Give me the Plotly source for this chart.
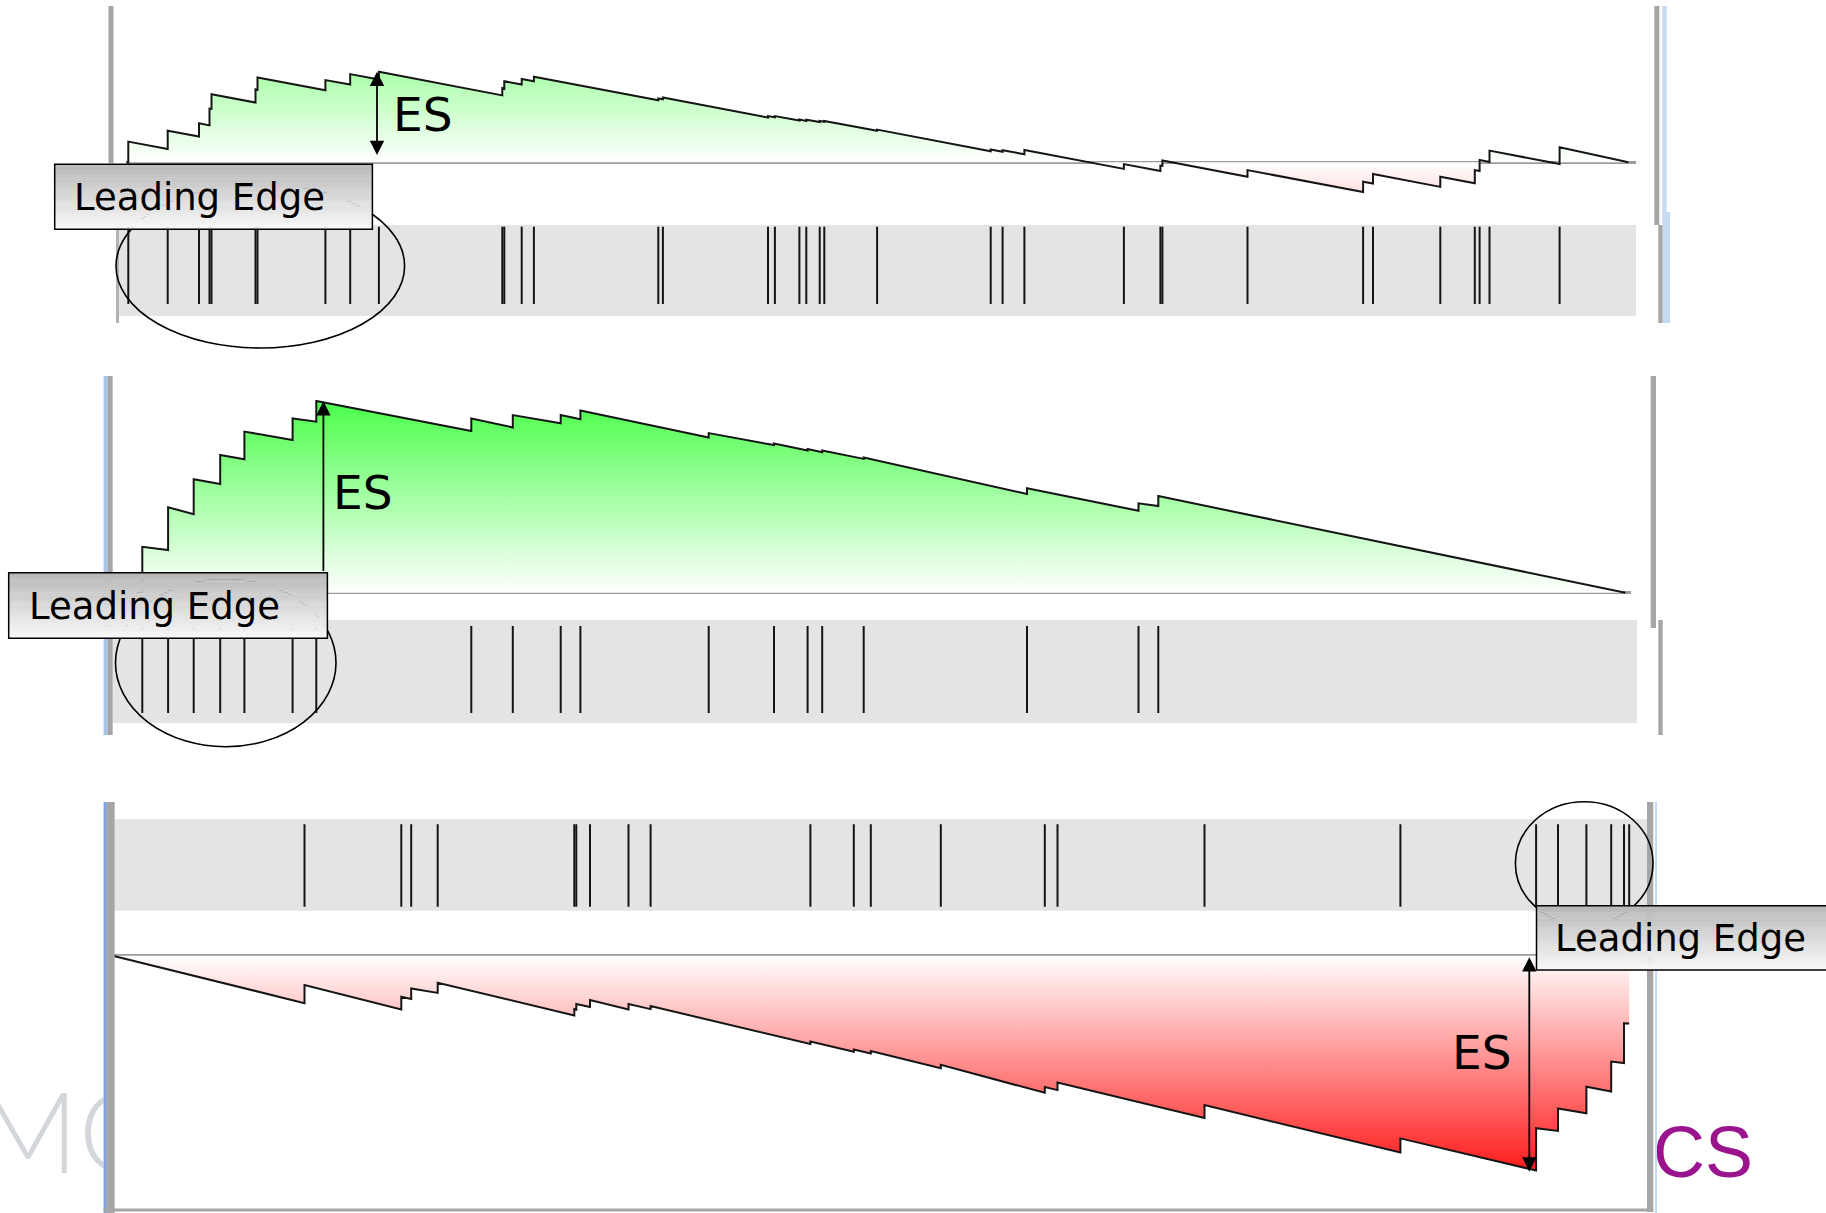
import plotly.graph_objects as go

W, H = 1826, 1213

# ===================== DATA =====================
# Panel 1 (weak enrichment): ranks of gene-set members in the ranked list
p1_hits = [19, 413, 726, 831, 851, 1291, 1311, 1990, 2238, 2525, 3759, 3779, 3953, 4075,
           5319, 5365, 6416, 6485, 6730, 6799, 6933, 6979, 7507, 8643, 8762, 8980, 9975,
           10340, 10360, 11211, 12367, 12466, 13139, 13484, 13532, 13631, 14332]
# running enrichment score just before / just after each hit
p1_es_before = [0.000, 0.044, 0.086, 0.123, 0.178, 0.199, 0.241, 0.240, 0.259, 0.276,
                0.223, 0.245, 0.259, 0.270, 0.207, 0.210, 0.149, 0.150, 0.139, 0.138,
                0.134, 0.135, 0.105, 0.037, 0.035, 0.027, -0.022, -0.029, -0.012, -0.048,
                -0.099, -0.071, -0.082, -0.070, -0.029, 0.001, -0.006]
p1_es_after = [0.069, 0.105, 0.130, 0.179, 0.227, 0.243, 0.283, 0.274, 0.294, 0.302,
               0.247, 0.270, 0.278, 0.285, 0.213, 0.216, 0.154, 0.154, 0.143, 0.142,
               0.138, 0.138, 0.109, 0.043, 0.040, 0.041, -0.006, -0.011, 0.006, -0.026,
               -0.065, -0.039, -0.048, -0.026, 0.008, 0.039, 0.050]
p1_end_rank = 15020

# Panel 2 (strong positive enrichment)
p2_hits = [59, 317, 573, 838, 1080, 1562, 1799, 3349, 3764, 4243, 4440, 5723, 6376,
           6712, 6858, 7273, 8906, 10021, 10219]
p2_es_before = [0.000, 0.142, 0.262, 0.362, 0.445, 0.509, 0.570, 0.539, 0.551, 0.565,
                0.578, 0.517, 0.492, 0.474, 0.468, 0.446, 0.329, 0.273, 0.289]
p2_es_after = [0.153, 0.285, 0.378, 0.459, 0.537, 0.581, 0.639, 0.581, 0.592, 0.592,
               0.607, 0.532, 0.497, 0.479, 0.474, 0.451, 0.348, 0.298, 0.322]
p2_end_rank = 14890

# Panel 3 (strong negative enrichment)
p3_hits = [1918, 2886, 2985, 3250, 4616, 4636, 4773, 5158, 5379, 6977, 7411, 7581, 8281,
           9321, 9448, 10918, 12877, 14234, 14453, 14737, 14985, 15113, 15165]
p3_es_before = [-0.158, -0.179, -0.144, -0.124, -0.199, -0.180, -0.171, -0.179, -0.178,
                -0.294, -0.320, -0.326, -0.375, -0.457, -0.448, -0.541, -0.656, -0.716,
                -0.584, -0.525, -0.453, -0.358, -0.226]
p3_es_after = [-0.098, -0.137, -0.109, -0.090, -0.178, -0.161, -0.148, -0.161, -0.168,
               -0.286, -0.313, -0.318, -0.364, -0.438, -0.423, -0.498, -0.609, -0.575,
               -0.509, -0.437, -0.353, -0.225, -0.053]
p3_end_rank = 15170

# ES arrows: (rank, ES at one end, ES at other end)
p1_arrow = (2506, 0.302, 0.019)
p2_arrow = (1870, 0.639, 0.067)
p3_arrow = (14166, -0.720, 0.000)

LEADING_EDGE = "Leading Edge"
ES_LABEL = "ES"

# ===================== LAYOUT GEOMETRY (pixels) =====================
PX_PER_RANK = 0.1
PX_PER_ES = 300.0


def fx(px):
    return px / W


def fy(py):
    return 1 - py / H


panels = {
    1: dict(x0=126.4, es_x=(126.4, 1635.7), es_y=(6, 225), zero=162.3,
            strip_x=(119, 1636), strip_y=(225, 316), hit_y=(226.7, 304)),
    2: dict(x0=136.4, es_x=(136.4, 1631), es_y=(376, 620), zero=592.7,
            strip_x=(112.7, 1637), strip_y=(620, 723.3), hit_y=(626, 713)),
    3: dict(x0=112.7, es_x=(112.7, 1649), es_y=(912, 1207), zero=955.7,
            strip_x=(114.7, 1653), strip_y=(819, 910.7), hit_y=(824.3, 906.7)),
}
# axis ids: (es axis index, strip axis index)
axids = {1: (1, 2), 2: (3, 4), 3: (6, 5)}

data_sets = {
    1: (p1_hits, p1_es_before, p1_es_after, p1_end_rank),
    2: (p2_hits, p2_es_before, p2_es_after, p2_end_rank),
    3: (p3_hits, p3_es_before, p3_es_after, p3_end_rank),
}

GRAD = dict(type="vertical",
            colorscale=[[0.0, "#ff1a1a"], [0.5, "#ffffff"], [1.0, "#33ff33"]],
            start=-0.72, stop=0.72)

fig = go.Figure()
layout = dict(width=W, height=H, margin=dict(l=0, r=0, t=0, b=0),
              paper_bgcolor="white", plot_bgcolor="white", showlegend=False)
shapes = []
annotations = []

for p in (1, 2, 3):
    g = panels[p]
    ei, si = axids[p]
    hits, eb, ea, end_rank = data_sets[p]
    # ---- running-sum vertices
    xs, ys = [0], [0.0]
    for h, b, a in zip(hits, eb, ea):
        xs += [h, h]
        ys += [b, a]
    xs.append(end_rank)
    ys.append(0.0)
    if p == 3:
        lx, ly = xs[:-2], ys[:-2]
    else:
        lx, ly = xs, ys
    exa, eya = f"x{ei}", f"y{ei}"
    sxa, sya = f"x{si}", f"y{si}"
    fig.add_trace(go.Scatter(x=xs, y=ys, mode="lines", line=dict(width=0),
                             fill="tozeroy", fillgradient=GRAD,
                             xaxis=exa, yaxis=eya, hoverinfo="skip"))
    fig.add_trace(go.Scatter(x=lx, y=ly, mode="lines",
                             line=dict(color="#151515", width=2),
                             xaxis=exa, yaxis=eya, hoverinfo="skip"))
    # ---- hits
    sh = g["strip_y"][1] - g["strip_y"][0]
    ylo = (g["strip_y"][1] - g["hit_y"][1]) / sh
    yhi = (g["strip_y"][1] - g["hit_y"][0]) / sh
    hx, hy = [], []
    for h in hits:
        hx += [h, h, None]
        hy += [ylo, yhi, None]
    fig.add_trace(go.Scatter(x=hx, y=hy, mode="lines",
                             line=dict(color="#141414", width=2),
                             xaxis=sxa, yaxis=sya, hoverinfo="skip"))
    # ---- axes
    x0 = g["x0"]
    layout[f"xaxis{ei}"] = dict(domain=[fx(g["es_x"][0]), fx(g["es_x"][1])],
                                range=[(g["es_x"][0] - x0) / PX_PER_RANK,
                                       (g["es_x"][1] - x0) / PX_PER_RANK],
                                visible=False, fixedrange=True)
    layout[f"yaxis{ei}"] = dict(domain=[fy(g["es_y"][1]), fy(g["es_y"][0])],
                                range=[(g["zero"] - g["es_y"][1]) / PX_PER_ES,
                                       (g["zero"] - g["es_y"][0]) / PX_PER_ES],
                                anchor=f"x{ei}", showticklabels=False, showgrid=False,
                                ticks="", showline=False, zeroline=True,
                                zerolinecolor="#9c9c9c", zerolinewidth=2.5,
                                fixedrange=True)
    layout[f"xaxis{si}"] = dict(domain=[fx(g["strip_x"][0]), fx(g["strip_x"][1])],
                                range=[(g["strip_x"][0] - x0) / PX_PER_RANK,
                                       (g["strip_x"][1] - x0) / PX_PER_RANK],
                                visible=False, fixedrange=True)
    layout[f"yaxis{si}"] = dict(domain=[fy(g["strip_y"][1]), fy(g["strip_y"][0])],
                                range=[0, 1], anchor=f"x{si}", visible=False,
                                fixedrange=True)
    shapes.append(dict(type="rect", xref=f"x{si} domain", yref=f"y{si} domain",
                       x0=0, x1=1, y0=0, y1=1, fillcolor="#e4e4e4",
                       line=dict(width=0), layer="below"))

# ---- watermark fragments (clipped by their own small subplots)
layout["xaxis7"] = dict(domain=[0, fx(103.6)], range=[0, 103.6], visible=False)
layout["yaxis7"] = dict(domain=[fy(1200), fy(1070)], range=[0, 1], anchor="x7",
                        visible=False)
layout["xaxis8"] = dict(domain=[fx(1656), 1], range=[1656, 1826], visible=False)
layout["yaxis8"] = dict(domain=[fy(1200), fy(1100)], range=[0, 1], anchor="x8",
                        visible=False)
fig.add_trace(go.Scatter(x=[72], y=[0.425], mode="text", text=["MO"],
                         textposition="middle center", cliponaxis=True,
                         textfont=dict(family="Lato", size=112, color="#d3d6da",
                                       weight=300),
                         xaxis="x7", yaxis="y7", hoverinfo="skip"))
fig.add_trace(go.Scatter(x=[1703], y=[0.415], mode="text", text=["CS"],
                         textposition="middle center", cliponaxis=True,
                         textfont=dict(family="Liberation Sans", size=72,
                                       color="#9a148d"),
                         xaxis="x8", yaxis="y8", hoverinfo="skip"))

# ---- frame bars
GRAY = "#a6a6a6"
BLUE = "#c6daf1"
bars = [
    (108.5, 113.5, 6, 163, GRAY), (116, 119, 227, 323, "#b2b2b2"),
    (1654.3, 1659.3, 6, 225, GRAY), (1662.3, 1666.7, 6, 224, BLUE),
    (1658.3, 1662.7, 225, 323, GRAY), (1662.7, 1670, 212, 323, BLUE),
    (103.6, 107.5, 376, 735, "#a9c3e6"), (107.5, 112.7, 376, 735, GRAY),
    (1650.7, 1656, 376, 628, GRAY), (1658.3, 1662.7, 620, 735, GRAY),
    (103.6, 106.8, 802, 1213, "#7fa0d8"), (106.8, 114.7, 802, 1213, GRAY),
    (1647, 1653.3, 802, 1212, GRAY), (1655, 1657, 802, 1213, BLUE),
    (103.6, 1653.3, 1208.5, 1211.5, GRAY),
]
for x0, x1, y0, y1, c in bars:
    shapes.append(dict(type="rect", xref="paper", yref="paper", x0=fx(x0), x1=fx(x1),
                       y0=fy(y1), y1=fy(y0), fillcolor=c, line=dict(width=0),
                       layer="above"))

# ---- leading-edge ellipses
ellipses = [(116, 404.6, 184, 348), (115.5, 336, 579, 746.7), (1515.4, 1653, 801.7, 925)]
for x0, x1, y0, y1 in ellipses:
    shapes.append(dict(type="circle", xref="paper", yref="paper", x0=fx(x0), x1=fx(x1),
                       y0=fy(y1), y1=fy(y0), line=dict(color="black", width=1.6),
                       layer="above"))

# ---- leading-edge label boxes with vertical gray gradient
boxes = [(54.7, 372.4, 164.3, 229.3, 71.5), (8.7, 327.4, 572.7, 638.3, 26.5),
         (1536.5, 1860, 905.7, 970, 1552.8)]
NSTRIPE = 30
for bx0, bx1, by0, by1, tx in boxes:
    hgt = (by1 - by0) / NSTRIPE
    for k in range(NSTRIPE):
        t = k / (NSTRIPE - 1)
        v = int(round(184 + (248 - 184) * t))
        shapes.append(dict(type="rect", xref="paper", yref="paper",
                           x0=fx(bx0), x1=fx(bx1), y0=fy(by0 + (k + 1) * hgt + 0.3),
                           y1=fy(by0 + k * hgt), fillcolor=f"rgb({v},{v},{v})",
                           line=dict(width=0), layer="above"))
    shapes.append(dict(type="rect", xref="paper", yref="paper", x0=fx(bx0), x1=fx(bx1),
                       y0=fy(by1), y1=fy(by0), line=dict(color="black", width=1.5),
                       fillcolor="rgba(0,0,0,0)", layer="above"))
    annotations.append(dict(text=LEADING_EDGE, xref="paper", yref="paper", x=fx(tx),
                            y=fy((by0 + by1) / 2 + 1), xanchor="left", yanchor="middle",
                            showarrow=False,
                            font=dict(family="DejaVu Sans", size=37, color="black")))

# ---- ES arrows
arrows = [(1, p1_arrow, "end+start"), (3, p2_arrow, "end"), (6, p3_arrow, "end+start")]
for ai, (r, e_head, e_tail), side in arrows:
    annotations.append(dict(text="", x=r, y=e_head, ax=r, ay=e_tail,
                            xref=f"x{ai}", yref=f"y{ai}", axref=f"x{ai}", ayref=f"y{ai}",
                            showarrow=True, arrowhead=2, startarrowhead=2,
                            arrowside=side, arrowwidth=1.8, arrowsize=1.6,
                            startarrowsize=1.6, arrowcolor="black", standoff=0,
                            startstandoff=0))

# ---- ES labels
es_labels = [(390.5, 114), (330.5, 492.5), (1450, 1052.5)]
for lx_, ly_ in es_labels:
    annotations.append(dict(text=ES_LABEL, xref="paper", yref="paper", x=fx(lx_),
                            y=fy(ly_), xanchor="left", yanchor="middle", showarrow=False,
                            font=dict(family="DejaVu Sans", size=47, color="black")))

layout["shapes"] = shapes
layout["annotations"] = annotations
fig.update_layout(**layout)

fig.write_html("out.html", config={"displayModeBar": False, "staticPlot": True},
               post_script="document.body.style.margin='0';document.body.style.overflow='hidden';")
